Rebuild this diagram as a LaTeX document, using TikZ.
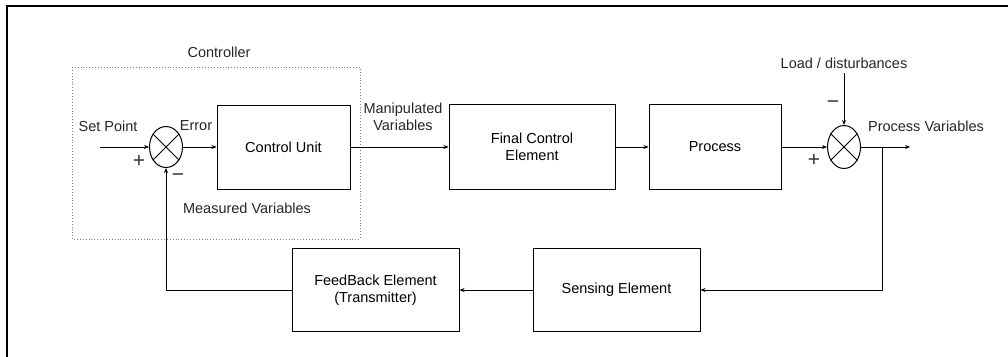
\documentclass[tikz,border=0pt]{standalone}
\usepackage{fontspec}
\setmainfont{Liberation Sans}
\usetikzlibrary{arrows.meta,shapes.geometric}
\begin{document}
\begin{tikzpicture}[x=1pt,y=-1pt,
  font=\fontsize{14.5}{17.5}\selectfont,
  blk/.style={draw, line width=1pt, inner sep=0pt, align=center},
  sumj/.style={draw, ellipse, line width=1pt, inner sep=0pt, minimum width=33pt},
  conn/.style={line width=1pt, -{Stealth[length=5pt,width=4pt]}},
  wire/.style={line width=1pt},
  lbl/.style={inner sep=0pt, text=black!85},
  sgn/.style={inner sep=0pt, text=black!80, font=\fontsize{21}{21}\selectfont}]
\useasboundingbox (0,0) rectangle (1008,356);
% frame
\draw[line width=1.6pt] (7,360) -- (7,6) -- (1010,6);
% controller box
\draw[dotted, gray, line width=0.9pt] (72,67) rectangle (360,239);
\node[lbl] (ctl) at (219,52) {Controller};
% blocks
\node[blk, minimum width=133pt, minimum height=84pt] (cu) at (283.5,147) {Control Unit};
\node[blk, minimum width=166pt, minimum height=85pt] (fce) at (532,147) {Final Control\\Element};
\node[blk, minimum width=132pt, minimum height=85pt] (proc) at (715,147) {Process};
\node[blk, minimum width=167pt, minimum height=83pt] (fb) at (375.5,290) {FeedBack Element\\(Transmitter)};
\node[blk, minimum width=167pt, minimum height=83pt] (sens) at (616.5,290) {Sensing Element};
% summing junctions
\node[sumj, minimum height=41pt] (s1) at (166,147) {};
\draw[wire] (s1.45) -- (s1.225) (s1.135) -- (s1.315);
\node[sumj, minimum height=43pt] (s2) at (844,147) {};
\draw[wire] (s2.45) -- (s2.225) (s2.135) -- (s2.315);
% free ends
\coordinate (sp) at (100,147);
\coordinate (ld) at (844,73);
\coordinate (pv) at (910,147);
\coordinate (br) at (882,147);
% connectors
\draw[conn] (sp) -- (s1.west);
\draw[conn] (s1.east) -- (cu.west);
\draw[conn] (cu.east) -- (fce.west);
\draw[conn] (fce.east) -- (proc.west);
\draw[conn] (proc.east) -- (s2.west);
\draw[conn] (ld) -- (s2.north);
\draw[conn] (s2.east) -- (pv);
\draw[conn] (br) |- (sens.east);
\draw[conn] (sens.west) -- (fb.east);
\draw[conn] (fb.west) -| (s1.south);
% labels
\node[lbl] (lsp) at (108,126) {Set Point};
\node[lbl] (ler) at (196,126) {Error};
\node[sgn] (lp1) at (139,161) {+};
\node[sgn] (lm1) at (178,178) {−};
\node[lbl] (lmv) at (247,208) {Measured Variables};
\node[lbl, align=center] (lman) at (403,117) {Manipulated\\Variables};
\node[lbl] (lld) at (844,63) {Load / disturbances};
\node[sgn] (lm2) at (833,105) {−};
\node[sgn] (lp2) at (814,160) {+};
\node[lbl] (lpv) at (926,126) {Process Variables};
\end{tikzpicture}
\end{document}
